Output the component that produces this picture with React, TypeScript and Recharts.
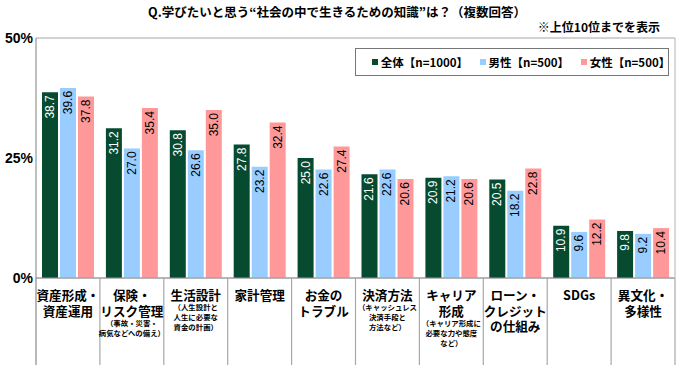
import React from "react";
import { BarChart, Bar, XAxis, YAxis, CartesianGrid, LabelList, Legend } from "recharts";

const categories = [
  "資産形成・資産運用",
  "保険・リスク管理",
  "生活設計",
  "家計管理",
  "お金のトラブル",
  "決済方法",
  "キャリア形成",
  "ローン・クレジットの仕組み",
  "SDGs",
  "異文化・多様性",
];
const mainLabelLines = [
  ["資産形成・", "資産運用"],
  ["保険・", "リスク管理"],
  ["生活設計"],
  ["家計管理"],
  ["お金の", "トラブル"],
  ["決済方法"],
  ["キャリア", "形成"],
  ["ローン・", "クレジット", "の仕組み"],
  ["SDGs"],
  ["異文化・", "多様性"],
];
const subLabelLines = [
  [],
  ["（事故・災害・", "病気などへの備え）"],
  ["（人生設計と", "人生に必要な", "資金の計画）"],
  [],
  [],
  ["（キャッシュレス", "決済手段と", "方法など）"],
  ["（キャリア形成に", "必要な力や態度", "など）"],
  [],
  [],
  [],
];
const allValues = [38.7, 31.2, 30.8, 27.8, 25.0, 21.6, 20.9, 20.5, 10.9, 9.8];
const maleValues = [39.6, 27.0, 26.6, 23.2, 22.6, 22.6, 21.2, 18.2, 9.6, 9.2];
const femaleValues = [37.8, 35.4, 35.0, 32.4, 27.4, 20.6, 20.6, 22.8, 12.2, 10.4];
const seriesNames = ["全体【n=1000】", "男性【n=500】", "女性【n=500】"];
const seriesColors = ["#064B30", "#99CCFF", "#FF9999"];
const yTicks = [0, 25, 50];

const data = categories.map((c, i) => ({
  name: c,
  all: allValues[i],
  male: maleValues[i],
  female: femaleValues[i],
}));

const CHART_W = 680;
const CHART_H = 366;
const MARGIN = { top: 38, right: 4, bottom: 0, left: 0 };
const Y_AXIS_W = 36;
const R_AXIS_W = 1;
const X_AXIS_H = 88;
const BAND = (CHART_W - MARGIN.left - MARGIN.right - Y_AXIS_W - R_AXIS_W) / categories.length;

const JP = "'Noto Sans CJK JP', 'Noto Sans', sans-serif";
const NUM = "'Liberation Sans', Arial, sans-serif";

const XTick = (props: any) => {
  const { x, y, index } = props;
  const mains: string[] = mainLabelLines[index] || [];
  const subs: string[] = subLabelLines[index] || [];
  const mainCenter = y + 16.3;
  const mainStep = 15.8;
  const lastMain = mainCenter + (mains.length - 1) * mainStep;
  const subCenter = lastMain + 12.2;
  const subStep = 10;
  return (
    <g>
      {index === 0 && (
        <line x1={x - BAND / 2} x2={x - BAND / 2} y1={y} y2={y + 87} stroke="#8a8a8a" strokeWidth={1.2} />
      )}
      <line x1={x + BAND / 2} x2={x + BAND / 2} y1={y} y2={y + 87} stroke="#a8a8a8" strokeWidth={1.2} />
      {mains.map((t, i) => (
        <text
          key={"m" + i}
          x={x}
          y={mainCenter + i * mainStep}
          textAnchor="middle"
          dominantBaseline="central"
          fontFamily={JP}
          fontWeight="bold"
          fontSize={12.6}
          fill="#000"
        >
          {t}
        </text>
      ))}
      {subs.map((t, i) => (
        <text
          key={"s" + i}
          x={x}
          y={subCenter + i * subStep}
          textAnchor="middle"
          dominantBaseline="central"
          fontFamily={JP}
          fontWeight="bold"
          fontSize={7.4}
          fill="#000"
        >
          {t}
        </text>
      ))}
    </g>
  );
};

const makeLabel = (color: string) => (props: any) => {
  const { x, y, width, value } = props;
  const cx = x + width / 2;
  const top = y + 3;
  return (
    <text
      x={cx}
      y={top}
      transform={`rotate(-90, ${cx}, ${top})`}
      textAnchor="end"
      dominantBaseline="central"
      fontFamily={NUM}
      fontSize={12}
      fill={color}
    >
      {Number(value).toFixed(1)}
    </text>
  );
};

const LegendBox = () => (
  <div
    style={{
      boxSizing: "border-box",
      width: 314,
      height: 28,
      border: "1px solid #777",
      background: "#fff",
      display: "flex",
      alignItems: "center",
      paddingLeft: 16,
      fontFamily: JP,
      fontWeight: "bold",
      fontSize: 11.5,
      color: "#000",
    }}
  >
    {seriesNames.map((n, i) => (
      <div key={n} style={{ display: "flex", alignItems: "center", marginRight: i < 2 ? 14 : 0 }}>
        <span
          style={{ display: "inline-block", width: 6, height: 6, background: seriesColors[i], marginRight: 3 }}
        />
        <span>{n}</span>
      </div>
    ))}
  </div>
);

export default function App() {
  return (
    <div style={{ position: "absolute", left: 0, top: 0, width: CHART_W, height: CHART_H, background: "#fff" }}>
      <div
        style={{
          position: "absolute",
          left: 0,
          width: CHART_W - 6,
          top: 3,
          textAlign: "center",
          fontFamily: JP,
          fontWeight: "bold",
          fontSize: 12.5,
          lineHeight: "18px",
          color: "#000",
          whiteSpace: "nowrap",
        }}
      >
        Q.学びたいと思う“社会の中で生きるための知識”は？（複数回答）
      </div>
      <div
        style={{
          position: "absolute",
          right: 20,
          top: 18,
          fontFamily: JP,
          fontWeight: "bold",
          fontSize: 12,
          lineHeight: "17px",
          color: "#000",
          whiteSpace: "nowrap",
        }}
      >
        ※上位10位までを表示
      </div>
      <BarChart
        width={CHART_W}
        height={CHART_H}
        data={data}
        margin={MARGIN}
        barSize={16}
        barGap={2}
        style={{ position: "absolute", left: 0, top: 0 }}
      >
        <CartesianGrid vertical={false} stroke="#a6a6a6" />
        <XAxis
          dataKey="name"
          height={X_AXIS_H}
          interval={0}
          tickLine={false}
          tickSize={0}
          tickMargin={0}
          axisLine={{ stroke: "#999" }}
          tick={<XTick />}
        />
        <YAxis
          yAxisId="left"
          width={Y_AXIS_W}
          domain={[0, 50]}
          ticks={yTicks}
          tickFormatter={(v: number) => `${v}%`}
          tickLine={false}
          tickSize={0}
          tickMargin={3}
          axisLine={{ stroke: "#808080" }}
          tick={{ fill: "#000", fontSize: 14, fontWeight: "bold", fontFamily: NUM }}
        />
        <YAxis
          yAxisId="right"
          orientation="right"
          width={R_AXIS_W}
          domain={[0, 50]}
          tick={false}
          tickLine={false}
          axisLine={{ stroke: "#b0b0b0" }}
        />
        <Legend
          verticalAlign="middle"
          layout="horizontal"
          content={<LegendBox />}
          wrapperStyle={{ position: "absolute", left: 355, top: 48, width: 314, height: 28 }}
        />
        <Bar yAxisId="left" dataKey="all" name={seriesNames[0]} fill={seriesColors[0]} isAnimationActive={false}>
          <LabelList dataKey="all" content={makeLabel("#fff")} />
        </Bar>
        <Bar yAxisId="left" dataKey="male" name={seriesNames[1]} fill={seriesColors[1]} isAnimationActive={false}>
          <LabelList dataKey="male" content={makeLabel("#000")} />
        </Bar>
        <Bar yAxisId="left" dataKey="female" name={seriesNames[2]} fill={seriesColors[2]} isAnimationActive={false}>
          <LabelList dataKey="female" content={makeLabel("#000")} />
        </Bar>
      </BarChart>
    </div>
  );
}
